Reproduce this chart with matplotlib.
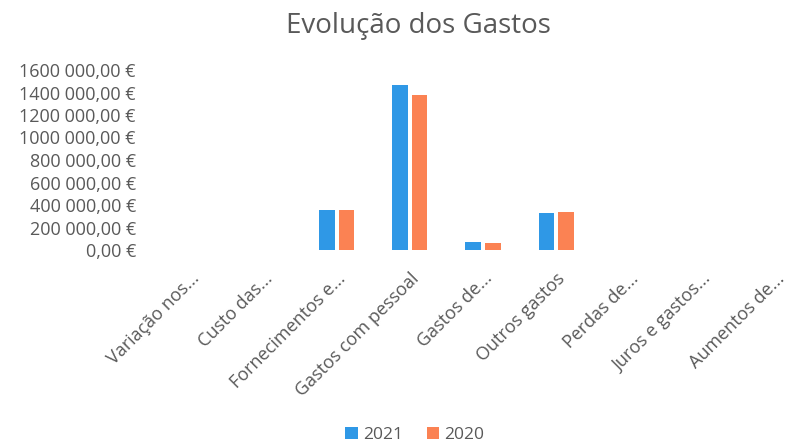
import numpy as np
import matplotlib
matplotlib.use("Agg")
import matplotlib.pyplot as plt
from matplotlib.ticker import FuncFormatter

plt.rcParams['font.family'] = ['Open Sans', 'DejaVu Sans']

# dados
categorias = ["Variação nos...", "Custo das...", "Fornecimentos e...",
              "Gastos com pessoal", "Gastos de...", "Outros gastos",
              "Perdas de...", "Juros e gastos...", "Aumentos de..."]
gastos_2021 = [0, 0, 355000, 1467000, 71000, 329000, 0, 0, 0]
gastos_2020 = [0, 0, 355000, 1378000, 62000, 335000, 0, 0, 0]
anos = ["2021", "2020"]

cor_2021 = "#2F98E6"
cor_2020 = "#FB8253"
cinza = "#595959"


def euro(v, pos=None):
    if v == 0:
        return "0,00 €"
    return f"{int(v // 1000)} {int(v % 1000):03d},00 €"


fig = plt.figure(figsize=(7.91, 4.44), dpi=100)
ax = fig.add_axes([154 / 791, 194 / 444, 658 / 791, 180 / 444])

x = np.arange(len(categorias))
w = 0.21
ax.bar(x - 0.135, gastos_2021, w, color=cor_2021, label=anos[0])
ax.bar(x + 0.135, gastos_2020, w, color=cor_2020, label=anos[1])

ax.set_xlim(-0.5, len(categorias) - 0.5)
ax.set_ylim(0, 1600000)
ax.set_yticks(np.arange(0, 1600001, 200000))
ax.yaxis.set_major_formatter(FuncFormatter(euro))
ax.set_xticks(x)
ax.set_xticklabels(categorias, rotation=45, ha="right", rotation_mode="anchor")

ax.tick_params(axis="both", length=0, labelsize=13, colors=cinza)
ax.tick_params(axis="y", pad=13)
ax.tick_params(axis="x", pad=14)
for s in ax.spines.values():
    s.set_visible(False)

fig.text(418 / 791, 1 - 26 / 444, "Evolução dos Gastos", ha="center", va="center",
         fontsize=20, color=cinza)

fig.legend(loc="center", bbox_to_anchor=(415 / 791, 1 - 435 / 444), ncol=2,
           frameon=False, fontsize=12.5, labelcolor=cinza, handlelength=0.7,
           handleheight=0.7, handletextpad=0.3, columnspacing=1.4)

fig.savefig("out.png", dpi=100)
